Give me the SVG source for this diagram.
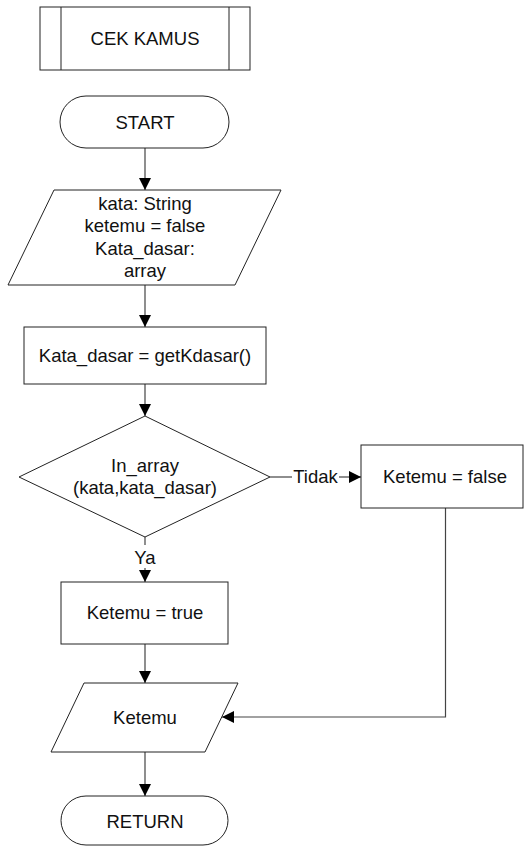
<svg xmlns="http://www.w3.org/2000/svg" width="524" height="846" viewBox="0 0 524 846">
  <style>
    .shape { fill: #fff; stroke: #222; stroke-width: 1; }
    .conn { fill: none; stroke: #444; stroke-width: 1.2; }
    text { font-family: "Liberation Sans", Arial, sans-serif; font-size: 18.5px; fill: #111; text-anchor: middle; }
  </style>
  <defs>
    <marker id="arrow" markerWidth="12" markerHeight="12" refX="12" refY="6" orient="auto" markerUnits="userSpaceOnUse">
      <path d="M0,0 L12,6 L0,12 Z" fill="#000"/>
    </marker>
  </defs>
  <rect width="524" height="846" fill="#fff"/>

  <g id="connectors">
    <line class="conn" x1="145" y1="148" x2="145" y2="190" marker-end="url(#arrow)"/>
    <line class="conn" x1="145" y1="285" x2="145" y2="327" marker-end="url(#arrow)"/>
    <line class="conn" x1="145" y1="384" x2="145" y2="416" marker-end="url(#arrow)"/>
    <line class="conn" x1="270" y1="477" x2="292" y2="477"/>
    <line class="conn" x1="339" y1="477" x2="361" y2="477" marker-end="url(#arrow)"/>
    <line class="conn" x1="145" y1="537" x2="145" y2="545"/>
    <line class="conn" x1="145" y1="568" x2="145" y2="582" marker-end="url(#arrow)"/>
    <line class="conn" x1="145" y1="644" x2="145" y2="683" marker-end="url(#arrow)"/>
    <polyline class="conn" points="445.5,508 445.5,717 222,717" marker-end="url(#arrow)"/>
    <line class="conn" x1="145" y1="752" x2="145" y2="796" marker-end="url(#arrow)"/>
    <text x="315.5" y="483">Tidak</text>
    <text x="145" y="564">Ya</text>
  </g>

  <g id="cek-kamus">
    <rect class="shape" x="40" y="7" width="210" height="63"/>
    <line class="shape" x1="61" y1="7" x2="61" y2="70"/>
    <line class="shape" x1="229" y1="7" x2="229" y2="70"/>
    <text x="145" y="45">CEK KAMUS</text>
  </g>

  <g id="start">
    <rect class="shape" x="60" y="96" width="169" height="52" rx="26" ry="26"/>
    <text x="145" y="129">START</text>
  </g>

  <g id="deklarasi">
    <polygon class="shape" points="54,190 281,190 235,285 8,285"/>
    <text x="145" y="210">kata: String</text>
    <text x="145" y="232">ketemu = false</text>
    <text x="145" y="255">Kata_dasar:</text>
    <text x="145" y="277">array</text>
  </g>

  <g id="get-kdasar">
    <rect class="shape" x="24" y="327" width="242" height="57"/>
    <text x="145" y="362">Kata_dasar = getKdasar()</text>
  </g>

  <g id="cek-array">
    <polygon class="shape" points="145,416 270,477 145,537 19,477"/>
    <text x="145" y="472">In_array</text>
    <text x="145" y="494">(kata,kata_dasar)</text>
  </g>

  <g id="ketemu-false">
    <rect class="shape" x="361" y="445" width="162" height="63"/>
    <text x="445" y="483">Ketemu = false</text>
  </g>

  <g id="ketemu-true">
    <rect class="shape" x="61" y="582" width="167" height="62"/>
    <text x="145" y="619">Ketemu = true</text>
  </g>

  <g id="output-ketemu">
    <polygon class="shape" points="84,683 238,683 205,752 51,752"/>
    <text x="145" y="724">Ketemu</text>
  </g>

  <g id="return">
    <rect class="shape" x="61" y="796" width="167" height="49" rx="25" ry="25"/>
    <text x="145" y="828">RETURN</text>
  </g>
</svg>
